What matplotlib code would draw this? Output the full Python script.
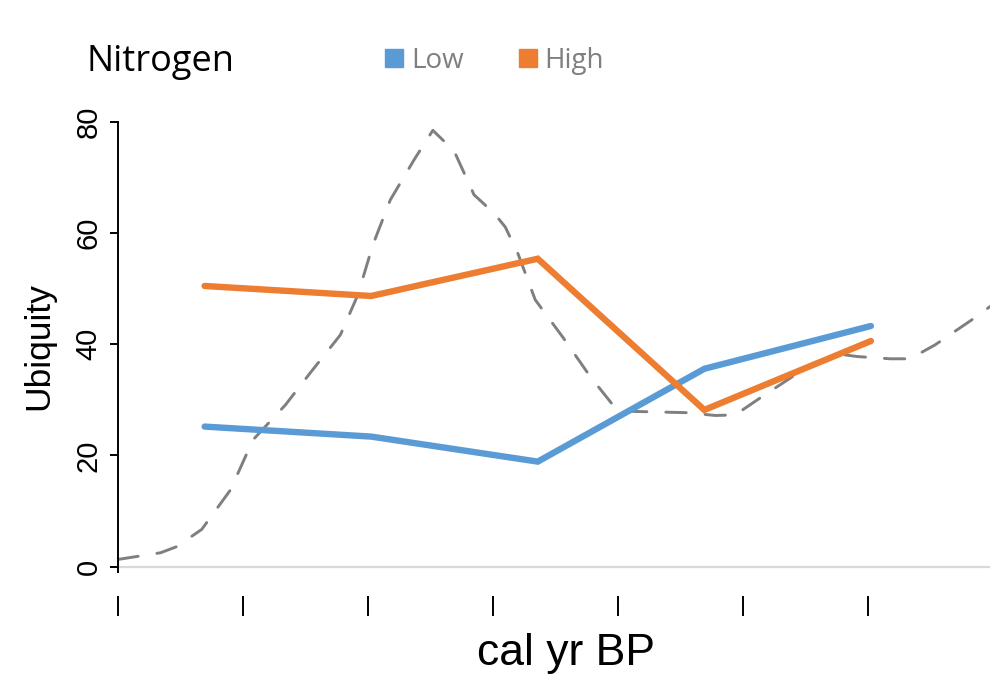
import numpy as np
import matplotlib
matplotlib.use("Agg")
import matplotlib.pyplot as plt
from matplotlib.lines import Line2D

# ---- data ----
periods = ["P1", "P2", "P3", "P4", "P5"]
low = [25.2, 23.4, 18.9, 35.6, 43.3]
high = [50.5, 48.7, 55.4, 28.2, 40.6]

# background curve (dashed): x in tick units, y in Ubiquity units
curve_x = [0.0, 0.34, 0.47, 0.67, 0.90, 1.08, 1.34, 1.54, 1.78, 1.92, 2.04, 2.18,
           2.37, 2.52, 2.69, 2.85, 3.01, 3.10, 3.20, 3.34, 3.56, 3.78, 4.00, 4.56,
           4.78, 4.94, 5.13, 5.46, 5.75, 5.92, 6.18, 6.34, 6.54, 6.86, 6.98]
curve_y = [1.3, 2.5, 3.6, 6.7, 13.8, 22.8, 29.1, 34.9, 41.7, 48.9, 57.9, 66.0,
           73.2, 78.5, 74.8, 66.9, 63.6, 61.1, 56.4, 48.0, 41.3, 34.2, 28.0, 27.7,
           27.2, 27.3, 30.2, 35.1, 38.3, 37.8, 37.4, 37.4, 39.9, 44.8, 46.8]

yticks = [0, 20, 40, 60, 80]
xticks = [0, 1, 2, 3, 4, 5, 6]

fig = plt.figure(figsize=(9.94, 6.74), dpi=100)
ax = fig.add_axes([118/994, 1-570/674, (990-118)/994, (570-122)/674])

xs = (np.arange(len(periods)) + 0.52) * 4 / 3

ax.plot(curve_x, curve_y, color="#7f7f7f", lw=2.1, linestyle=(0, (7, 6.5)),
        dash_capstyle="round", zorder=2)
ax.plot(xs, low, color="#5B9BD5", lw=4.6, solid_capstyle="round", solid_joinstyle="miter", zorder=3)
ax.plot(xs, high, color="#ED7D31", lw=4.6, solid_capstyle="round", solid_joinstyle="miter", zorder=3)

ax.axhline(0, color="#d9d9d9", lw=1.6, zorder=1)

ax.set_xlim(0, 6.98)
ax.set_ylim(-0.6, 80)

for s in ["top", "right"]:
    ax.spines[s].set_visible(False)
ax.spines["left"].set_linewidth(1.4)
ax.spines["left"].set_bounds(-0.9, 80)
ax.spines["bottom"].set_position(("outward", 19))
ax.spines["bottom"].set_visible(False)

ax.set_yticks(yticks)
ax.set_yticklabels([str(v) for v in yticks], rotation=90, va="center",
                   fontsize=21, family="Liberation Sans")
ax.tick_params(axis="y", length=6, width=1.4, pad=5, color="black")
ax.set_xticks(xticks)
ax.set_xticklabels([])
ax.tick_params(axis="x", length=14.5, width=1.4, direction="out", color="black")

ax.set_ylabel("Ubiquity", fontsize=25.5, family="Liberation Sans", labelpad=14)
fig.text(566/994, 1-665/674, "cal yr BP", fontsize=32, family="Liberation Sans",
         ha="center", va="baseline")

fig.text(87/994, 1-71/674, "Nitrogen", fontsize=26, family="Open Sans", ha="left", va="baseline")

handles = [Line2D([], [], color=c, marker="s", markersize=13, linestyle="none")
           for c in ["#5B9BD5", "#ED7D31"]]
leg = fig.legend(handles, ["Low", "High"], loc="center left",
                 bbox_to_anchor=(386/994, 1-61/674), ncol=2, frameon=False,
                 handlelength=0.6, handletextpad=0.3, columnspacing=2.0,
                 borderaxespad=0, borderpad=0,
                 prop={"family": "Open Sans", "size": 20})
for t in leg.get_texts():
    t.set_color("#7f7f7f")

fig.savefig("out.png", dpi=100, facecolor="white")
